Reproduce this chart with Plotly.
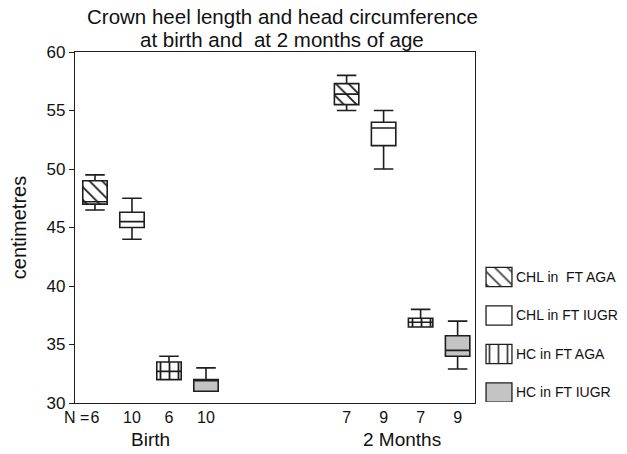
import plotly.graph_objects as go

# ---------------- data ----------------
groups = ["Birth", "2 Months"]
series = ["CHL in  FT AGA", "CHL in FT IUGR", "HC in FT AGA", "HC in FT IUGR"]

# values per series: [Birth, 2 Months]
n_counts = [[6, 7], [10, 9], [6, 7], [10, 9]]
lower_w = [[46.5, 55.0], [44.0, 50.0], [32.0, 36.5], [31.0, 32.9]]
q1_vals = [[47.0, 55.5], [45.0, 52.0], [32.0, 36.5], [31.0, 34.0]]
medians = [[47.2, 56.4], [45.5, 53.5], [32.7, 36.9], [32.0, 34.5]]
q3_vals = [[49.0, 57.3], [46.3, 54.0], [33.5, 37.25], [32.0, 35.75]]
upper_w = [[49.5, 58.0], [47.5, 55.0], [34.0, 38.0], [33.0, 37.0]]

y_ticks = [30, 35, 40, 45, 50, 55, 60]

# ---------------- styles ----------------
fills = ["white", "white", "white", "#c4c4c4"]
patterns = ["\\", "", "|", ""]
line_col = "#1e1e1e"
group_start = [1.0, 7.8]
box_w = 0.66

fig = go.Figure()

positions_all, labels_all = [], []
for si, name in enumerate(series):
    xs = [group_start[g] + si for g in range(len(groups))]
    positions_all += xs
    labels_all += [str(n) for n in n_counts[si]]
    if patterns[si]:
        fig.add_trace(go.Bar(
            x=xs,
            y=[q3_vals[si][g] - q1_vals[si][g] for g in range(len(groups))],
            base=q1_vals[si], width=box_w,
            marker=dict(color=fills[si], line=dict(width=0),
                        pattern=dict(shape=patterns[si], fillmode="overlay",
                                     fgcolor=line_col, fgopacity=1,
                                     size=9, solidity=0.2)),
            showlegend=False, hoverinfo="skip"))
    fig.add_trace(go.Box(
        x=xs, q1=q1_vals[si], median=medians[si], q3=q3_vals[si],
        lowerfence=lower_w[si], upperfence=upper_w[si],
        width=box_w, whiskerwidth=0.8,
        fillcolor="rgba(0,0,0,0)" if patterns[si] else fills[si],
        line=dict(color=line_col, width=1.6),
        boxpoints=False, showlegend=False, name=name))

# legend drawn as swatches on a small side axis
fig.add_trace(go.Bar(
    x=[1] * len(series), y=list(range(len(series))), base=0,
    orientation="h", width=0.5,
    marker=dict(color=fills, line=dict(color=line_col, width=1.3),
                pattern=dict(shape=patterns, fillmode="overlay",
                             fgcolor=line_col, fgopacity=1,
                             size=9, solidity=0.2)),
    xaxis="x2", yaxis="y2", showlegend=False, hoverinfo="skip"))

W, H = 627, 454
ml, mr, mt, mb = 75, 10, 52, 51
pw = W - ml - mr
ph = H - mt - mb

fig.update_layout(
    width=W, height=H,
    margin=dict(l=ml, r=mr, t=mt, b=mb),
    paper_bgcolor="white", plot_bgcolor="white",
    font=dict(family="Liberation Sans, Arial, sans-serif", color="#111111"),
    boxmode="overlay", barmode="overlay",
    xaxis=dict(domain=[0, 400 / pw], range=[0.46, 11.27],
               tickmode="array", tickvals=positions_all, ticktext=labels_all,
               ticks="", showgrid=False, zeroline=False,
               showline=True, mirror=True, linecolor=line_col, linewidth=1.3,
               tickfont=dict(size=16)),
    yaxis=dict(range=[30, 60], tickmode="array", tickvals=y_ticks,
               ticks="outside", ticklen=5, tickcolor=line_col,
               showgrid=False, zeroline=False,
               showline=True, mirror=True, linecolor=line_col, linewidth=1.3,
               tickfont=dict(size=17),
               title=dict(text="centimetres", font=dict(size=20), standoff=14)),
    xaxis2=dict(domain=[(485 - ml) / pw, (513 - ml) / pw], range=[-0.04, 1.04],
                visible=False, anchor="y2"),
    yaxis2=dict(domain=[(H - mb - 402.1) / ph, (H - mb - 257.75) / ph],
                range=[3.25, -0.5], anchor="x2", side="right",
                tickmode="array", tickvals=list(range(len(series))), ticktext=series,
                ticks="", showgrid=False, zeroline=False, showline=False,
                tickfont=dict(size=14), ticklabelstandoff=2),
)

# group labels and N marker
annotations = []
for g, gname in enumerate(groups):
    annotations.append(dict(text=gname, x=group_start[g] + (len(series) - 1) / 2,
                            xref="x", y=(H - mb - 439) / ph, yref="paper",
                            showarrow=False, font=dict(size=19),
                            xanchor="center", yanchor="middle"))
annotations.append(dict(text="N =", x=group_start[0] - 0.1, xref="x",
                        y=(H - mb - 417) / ph, yref="paper", showarrow=False,
                        font=dict(size=16), xanchor="right", yanchor="middle"))
title_lines = ["Crown heel length and head circumference",
               "at birth and  at 2 months of age"]
for i, t in enumerate(title_lines):
    annotations.append(dict(text=t, x=(282 - ml) / pw, xref="paper",
                            y=(H - mb - (17 + 22 * i)) / ph, yref="paper",
                            showarrow=False, font=dict(size=20.5),
                            xanchor="center", yanchor="middle"))
fig.update_layout(annotations=annotations)

fig.write_html("out.html", config={"displayModeBar": False},
               post_script="document.body.style.margin='0';document.body.style.overflow='hidden';")
